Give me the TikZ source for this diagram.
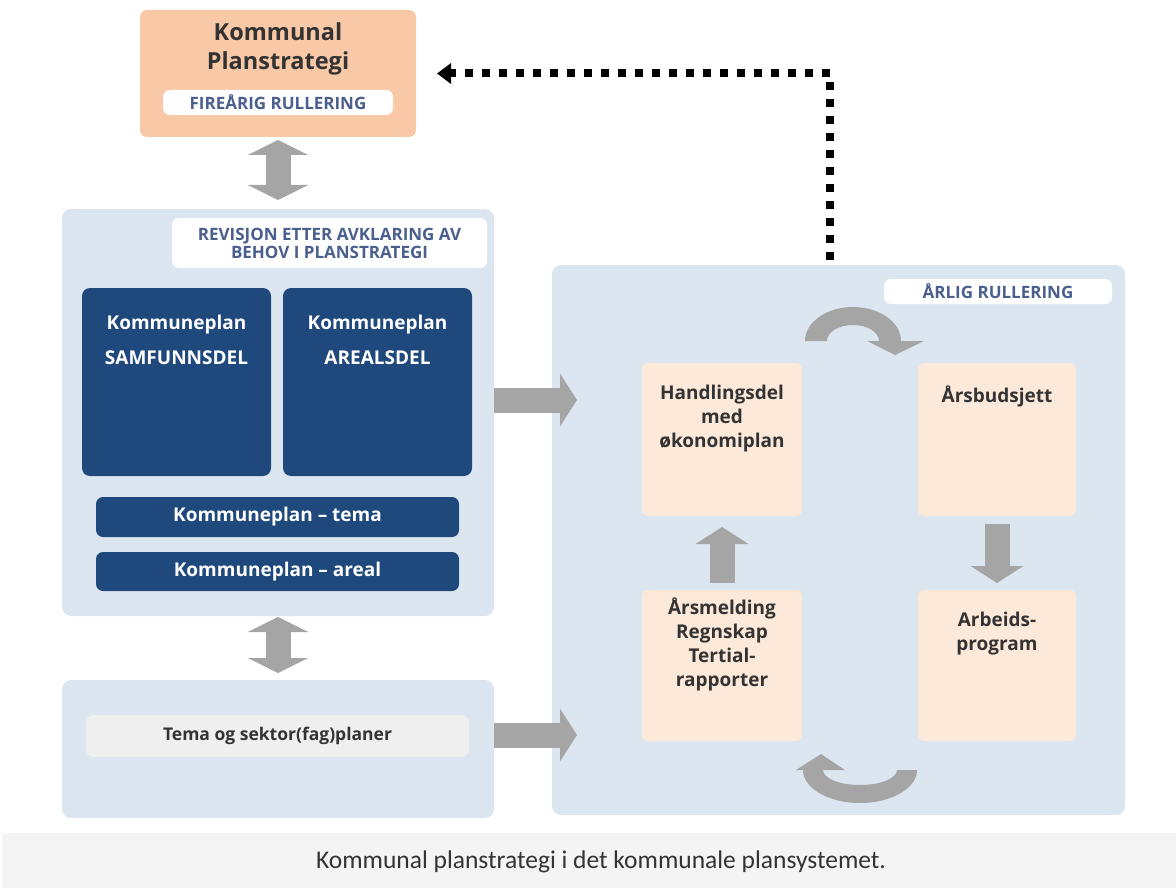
\documentclass[tikz,border=0pt]{standalone}
\usepackage{fontspec}
\setmainfont{Open Sans}
\newfontfamily\capfont{Carlito}
\usetikzlibrary{arrows.meta,calc}
\definecolor{peachtop}{HTML}{F9C8A6}
\definecolor{panel}{HTML}{DCE6F1}
\definecolor{navy}{HTML}{1F497D}
\definecolor{peach}{HTML}{FDE9D9}
\definecolor{arrowgray}{HTML}{A5A5A5}
\definecolor{pilltext}{HTML}{4A5F8E}
\definecolor{band}{HTML}{F4F4F4}
\definecolor{pillgray}{HTML}{EFEFEF}
\definecolor{darktext}{HTML}{333333}
\begin{document}
\begin{tikzpicture}[x=1pt,y=-1pt,
  boxbase/.style={inner sep=0pt, outer sep=0pt, rounded corners=7pt},
  topbox/.style={boxbase, fill=peachtop},
  panelbox/.style={boxbase, fill=panel, rounded corners=9pt},
  navybox/.style={boxbase, fill=navy, rounded corners=8pt},
  peachbox/.style={boxbase, fill=peach, rounded corners=6pt},
  pill/.style={boxbase, fill=white, rounded corners=7pt, text=pilltext, font=\bfseries\fontsize{17}{18}\selectfont, align=center},
  graypill/.style={boxbase, fill=pillgray, rounded corners=8pt, text=darktext, font=\bfseries\fontsize{17.5}{20}\selectfont},
  navytext/.style={text=white, font=\bfseries\fontsize{19}{35}\selectfont, align=center, inner sep=0pt},
  bartext/.style={text=white, font=\bfseries\fontsize{19}{20}\selectfont},
  peachtext/.style={text=darktext, font=\bfseries\fontsize{19}{24}\selectfont, align=center, inner sep=0pt},
  blockarrow/.style={draw=arrowgray, line width=25pt, -{Triangle[length=17pt,width=52pt]}},
  dblarrow/.style={draw=arrowgray, line width=25pt, {Triangle[length=15pt,width=60pt]}-{Triangle[length=15pt,width=60pt]}},
  dotarrow/.style={draw=black, line width=8pt, dash pattern=on 8pt off 9pt, -{Triangle[length=14pt,width=20pt]}},
  curvearrow/.style={fill=arrowgray},
]
\useasboundingbox (0,0) rectangle (1176,888);
\fill[white] (0,0) rectangle (1176,888);

% top box
\node[topbox, minimum width=276pt, minimum height=127pt] (kps) at (278,73.5) {};
\node[text=darktext, font=\bfseries\fontsize{23.5}{29}\selectfont, align=center, inner sep=0pt] (kpstitle) at (278,49) {Kommunal\\Planstrategi};
\node[pill, minimum width=230pt, minimum height=25pt] (fire) at (278,102.5) {FIREÅRIG RULLERING};

% left panel 1
\node[panelbox, minimum width=432pt, minimum height=407pt] (lp1) at (278,412.5) {};
\node[pill, minimum width=315pt, minimum height=50pt] (rev) at (329.5,243) {REVISJON ETTER AVKLARING AV\\BEHOV I PLANSTRATEGI};
\node[navybox, minimum width=189pt, minimum height=188pt] (samf) at (176.5,382) {};
\node[navytext] (samftext) at (176.5,339.5) {Kommuneplan\\SAMFUNNSDEL};
\node[navybox, minimum width=189pt, minimum height=188pt] (areal) at (377.5,382) {};
\node[navytext] (arealtext) at (377.5,339.5) {Kommuneplan\\AREALSDEL};
\node[navybox, rounded corners=7pt, minimum width=363pt, minimum height=40pt, bartext] (tema) at (277.5,517) {Kommuneplan – tema};
\node[navybox, rounded corners=7pt, minimum width=363pt, minimum height=39pt, bartext] (arealbar) at (277.5,571.5) {Kommuneplan – areal};

% left panel 2
\node[panelbox, minimum width=432pt, minimum height=138pt] (lp2) at (278,749) {};
\node[graypill, minimum width=383pt, minimum height=42pt] (sektor) at (277.5,736) {Tema og sektor(fag)planer};

% right panel
\node[panelbox, minimum width=573pt, minimum height=550pt] (rp) at (838.5,540) {};
\node[pill, minimum width=228pt, minimum height=25pt] (arlig) at (998,291.5) {ÅRLIG RULLERING};
\node[peachbox, minimum width=160pt, minimum height=153pt] (hand) at (722,439.5) {};
\node[peachtext] (handtext) at (722,419) {Handlingsdel\\med\\økonomiplan};
\node[peachbox, minimum width=158pt, minimum height=153pt] (buds) at (997,439.5) {};
\node[peachtext] (budstext) at (997,396) {Årsbudsjett};
\node[peachbox, minimum width=160pt, minimum height=151pt] (arsm) at (722,665.5) {};
\node[peachtext] (arsmtext) at (722,644.5) {Årsmelding\\Regnskap\\Tertial-\\rapporter};
\node[peachbox, minimum width=158pt, minimum height=151pt] (arb) at (997,665.5) {};
\node[peachtext] (arbtext) at (997,633.5) {Arbeids-\\program};

% connectors
\draw[dblarrow, shorten <=3pt, shorten >=9pt] (kps.south) -- (lp1.north);
\draw[dblarrow, shorten <=1pt, shorten >=7pt] (lp1.south) -- (lp2.north);
\coordinate (ya) at (0,400);
\coordinate (yb) at (0,735);
\draw[blockarrow, shorten >=65pt] (lp1.east |- ya) -- (hand.west |- ya);
\draw[blockarrow, shorten >=65pt] (lp2.east |- yb) -- (arsm.west |- yb);
\draw[blockarrow, shorten <=7pt, shorten >=11pt] (arsm.north) -- (hand.south);
\draw[blockarrow, shorten <=8pt, shorten >=7pt] (buds.south) -- (arb.north);

% curved arrows
\fill[curvearrow] (805,341) arc[start angle=180, end angle=360, x radius=48, y radius=34]
  -- (924,341) -- (895,355) -- (867,341) -- (879,341)
  arc[start angle=360, end angle=180, x radius=26, y radius=16] -- cycle;
\fill[curvearrow] (917,770) arc[start angle=0, end angle=180, x radius=57, y radius=33]
  -- (796,770) -- (821,754) -- (845,770) -- (823,770)
  arc[start angle=180, end angle=0, x radius=37, y radius=15] -- cycle;

% dotted feedback arrow
\coordinate (dstart) at (830,260);
\draw[dotarrow, shorten >=21pt] (dstart) |- (kps.east);

% caption
\fill[band] (2,833) rectangle (1176,888);
\node[text=darktext, font=\capfont\fontsize{25.5}{28}\selectfont] (caption) at (601,862) {Kommunal planstrategi i det kommunale plansystemet.};
\end{tikzpicture}
\end{document}
